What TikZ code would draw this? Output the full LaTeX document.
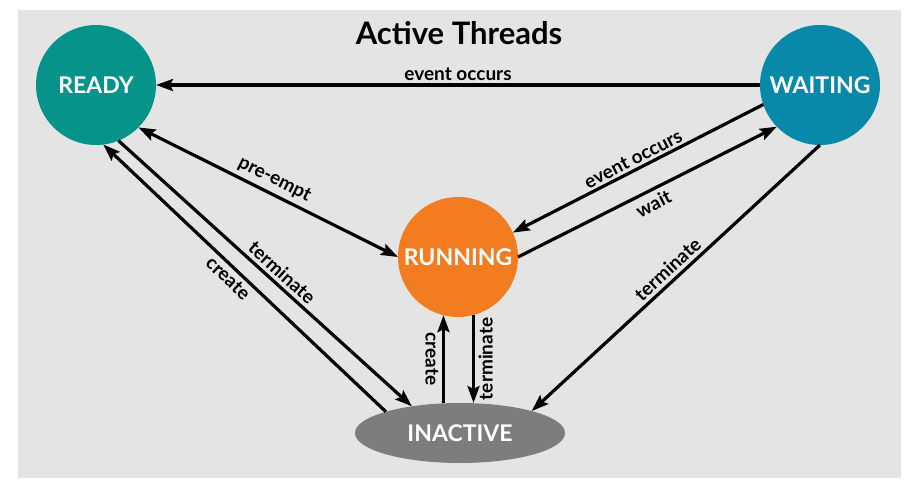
\documentclass[tikz,border=0pt]{standalone}
\usepackage{fontspec}
\setmainfont{Lato}
\usetikzlibrary{arrows.meta,shapes.geometric}
\definecolor{bgc}{HTML}{E4E4E4}
\definecolor{readyc}{HTML}{05938A}
\definecolor{waitc}{HTML}{0889AA}
\definecolor{runc}{HTML}{F47C20}
\definecolor{inactc}{HTML}{7D7D7D}
\begin{document}
\begin{tikzpicture}[x=1pt,y=-1pt,
  state/.style={circle, minimum size=120pt, inner sep=0pt, outer sep=0pt, text=white,
    font=\fontsize{23}{27}\selectfont\bfseries},
  conn/.style={line width=3.2pt, >={Stealth[length=17pt,width=12pt,inset=3pt]}},
  lbl/.style={font=\fontsize{19}{22}\selectfont\bfseries, inner sep=1.5pt}]
\useasboundingbox (0,0) rectangle (923,489);
\fill[bgc] (18,10) rectangle (901,478);
\node[font=\fontsize{31}{36}\selectfont\bfseries] (title) at (459,33) {Active Threads};
\node[state, fill=readyc] (ready) at (96,85) {READY};
\node[state, fill=waitc] (waiting) at (820,85) {WAITING};
\node[state, fill=runc] (running) at (458,257) {RUNNING};
\node[ellipse, fill=inactc, minimum width=210pt, minimum height=60pt, inner sep=0pt, outer sep=0pt,
  text=white, font=\fontsize{23}{27}\selectfont\bfseries] (inactive) at (460,433) {INACTIVE};
% event occurs (waiting -> ready)
\draw[conn,<-] (ready.east) -- node[lbl, above=1pt] {event occurs} (waiting.west);
% pre-empt
\draw[conn,<->] (ready.-45) -- node[lbl, sloped, above=3pt] {pre-empt} (running.west);
% event occurs (waiting -> running)
\draw[conn,<-] (running.24.4) -- node[lbl, sloped, above=1pt] {event occurs} (waiting.199.3);
% wait
\draw[conn,->] (running.east) -- node[lbl, sloped, below=3pt] {wait} (waiting.224.3);
% terminate ready -> inactive
\draw[conn,->] (ready.-68.2) -- node[lbl, sloped, above=2pt, pos=0.53] {terminate} (inactive.151.7);
% create inactive -> ready
\draw[conn,<-] (ready.-83.3) -- node[lbl, sloped, below=2pt, pos=0.47] {create} (inactive.164.7);
% create inactive -> running
\draw[conn,<-] (running.-104.5) -- node[lbl, sloped, below=2pt] {create} (running.-104.5 |- inactive.north);
% terminate running -> inactive
\draw[conn,<-] (running.-75.5 |- inactive.north) -- node[lbl, sloped, below=2pt] {terminate} (running.-75.5);
% terminate waiting -> inactive
\draw[conn,<-] (inactive.17) -- node[lbl, sloped, above=2pt] {terminate} (waiting.south);
\end{tikzpicture}
\end{document}
